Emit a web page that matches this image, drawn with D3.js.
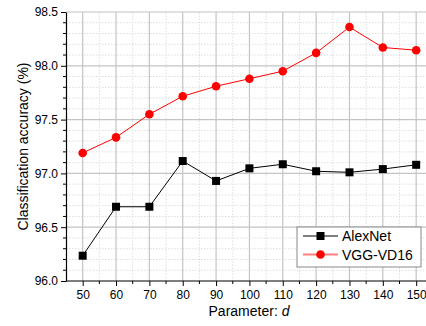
<!DOCTYPE html>
<html>
<head>
<meta charset="utf-8">
<script src="https://cdn.jsdelivr.net/npm/d3@7"></script>
<style>
  body { margin: 0; background: #fff; }
  svg { display: block; font-family: "Liberation Sans", Arial, sans-serif; }
</style>
</head>
<body>
<div class="chart-container"></div>
<script>
// values
const params = [50, 60, 70, 80, 90, 100, 110, 120, 130, 140, 150]
const alexnet = [96.235, 96.69, 96.69, 97.115, 96.93, 97.047, 97.085, 97.02, 97.01, 97.04, 97.08]
const vgg = [97.19, 97.335, 97.55, 97.717, 97.81, 97.88, 97.95, 98.12, 98.36, 98.17, 98.145]
const yTicks = [96.0, 96.5, 97.0, 97.5, 98.0, 98.5]

const width = 426, height = 326
const margin = {top: 12, left: 66, bottom: 45}

// x runs past the right border a little, like in the original figure
const x = d3.scaleLinear()
    .domain([45, 155])
    .range([margin.left, margin.left + 11 * 33.35])

const y = d3.scaleLinear()
    .domain([96, 98.5])
    .range([height - margin.bottom, margin.top])

const svg = d3.select(".chart-container").append("svg")
    .attr("width", width)
    .attr("height", height)

const x0 = margin.left, x1 = width
const y0 = height - margin.bottom, y1 = margin.top

// minor grid (dotted)
const minorX = d3.range(55, 160, 10)
const minorY = d3.range(96.1, 98.45, 0.1).filter(v => Math.abs(v * 2 - Math.round(v * 2)) > 0.01)
svg.append("g").selectAll("line").data(minorX).join("line")
    .attr("x1", d => x(d)).attr("x2", d => x(d))
    .attr("y1", y0).attr("y2", y1)
    .attr("stroke", "#dedede").attr("stroke-dasharray", "1.5,1.5")
svg.append("g").selectAll("line").data(minorY).join("line")
    .attr("x1", x0).attr("x2", x1)
    .attr("y1", d => y(d)).attr("y2", d => y(d))
    .attr("stroke", "#dedede").attr("stroke-dasharray", "1.5,1.5")

// major grid
svg.append("g").selectAll("line").data(params).join("line")
    .attr("x1", d => x(d)).attr("x2", d => x(d))
    .attr("y1", y0).attr("y2", y1)
    .attr("stroke", "#c4c4c4").attr("stroke-width", 1.2)
svg.append("g").selectAll("line").data(yTicks.slice(1)).join("line")
    .attr("x1", x0).attr("x2", x1)
    .attr("y1", d => y(d)).attr("y2", d => y(d))
    .attr("stroke", "#c4c4c4").attr("stroke-width", 1.2)

// axes
const xAxis = svg.append("g")
    .attr("transform", `translate(0,${y0})`)
    .call(d3.axisBottom(x).tickValues(params).tickSize(5).tickPadding(4).tickSizeOuter(0))
xAxis.append("g").selectAll("line").data(minorX).join("line")
    .attr("x1", d => x(d)).attr("x2", d => x(d))
    .attr("y1", 0).attr("y2", 3)
    .attr("stroke", "#000")

const yAxis = svg.append("g")
    .attr("transform", `translate(${x0},0)`)
    .call(d3.axisLeft(y).tickValues(yTicks).tickFormat(d3.format(".1f")).tickSize(5).tickPadding(3).tickSizeOuter(0))
yAxis.append("g").selectAll("line").data(minorY).join("line")
    .attr("y1", d => y(d)).attr("y2", d => y(d))
    .attr("x1", 0).attr("x2", -3)
    .attr("stroke", "#000")

svg.selectAll(".tick text").attr("font-size", 12).attr("fill", "#000")
    .attr("font-family", "Liberation Sans, Arial, sans-serif")
svg.selectAll(".domain").attr("stroke-width", 1.2)
xAxis.select(".domain").attr("d", `M${x0},0H${x1}`)

// axis titles
svg.append("text")
    .attr("x", 249).attr("y", 316)
    .attr("text-anchor", "middle")
    .attr("font-size", 14)
    .text("Parameter: ")
    .append("tspan").attr("font-style", "italic").text("d")

svg.append("text")
    .attr("transform", `translate(28,${(y0 + y1) / 2}) rotate(-90)`)
    .attr("text-anchor", "middle")
    .attr("font-size", 14)
    .text("Classification accuracy (%)")

// series
const series = [
    {name: "AlexNet", values: alexnet, color: "#000", marker: "square"},
    {name: "VGG-VD16", values: vgg, color: "#ff0000", marker: "circle"}
]

const line = d3.line()
    .x((d, i) => x(params[i]))
    .y(d => y(d))

function drawMarker(g, s, cx, cy) {
    if (s.marker === "square") {
        g.append("rect")
            .attr("x", cx - 4).attr("y", cy - 4)
            .attr("width", 8).attr("height", 8)
            .attr("fill", s.color)
    } else {
        g.append("circle")
            .attr("cx", cx).attr("cy", cy).attr("r", 4.3)
            .attr("fill", s.color)
    }
}

series.forEach(s => {
    const g = svg.append("g")
    g.append("path")
        .datum(s.values)
        .attr("fill", "none")
        .attr("stroke", s.color)
        .attr("stroke-width", 1)
        .attr("d", line)
    s.values.forEach((v, i) => drawMarker(g, s, x(params[i]), y(v)))
})

// legend
const legend = svg.append("g").attr("transform", "translate(297,227)")
legend.append("rect")
    .attr("width", 124).attr("height", 40)
    .attr("fill", "#fff")
    .attr("stroke", "#888").attr("stroke-width", 1)
series.forEach((s, i) => {
    const cy = 9 + i * 18.5
    const g = legend.append("g")
    g.append("line")
        .attr("x1", 6).attr("x2", 41)
        .attr("y1", cy).attr("y2", cy)
        .attr("stroke", s.color === "#000" ? "#000" : "#ff8080")
        .attr("stroke-width", s.color === "#000" ? 1 : 2)
    drawMarker(g, s, 23.5, cy)
    g.append("text")
        .attr("x", 45).attr("y", cy + 5)
        .attr("font-size", 14)
        .text(s.name)
})
</script>
</body>
</html>
